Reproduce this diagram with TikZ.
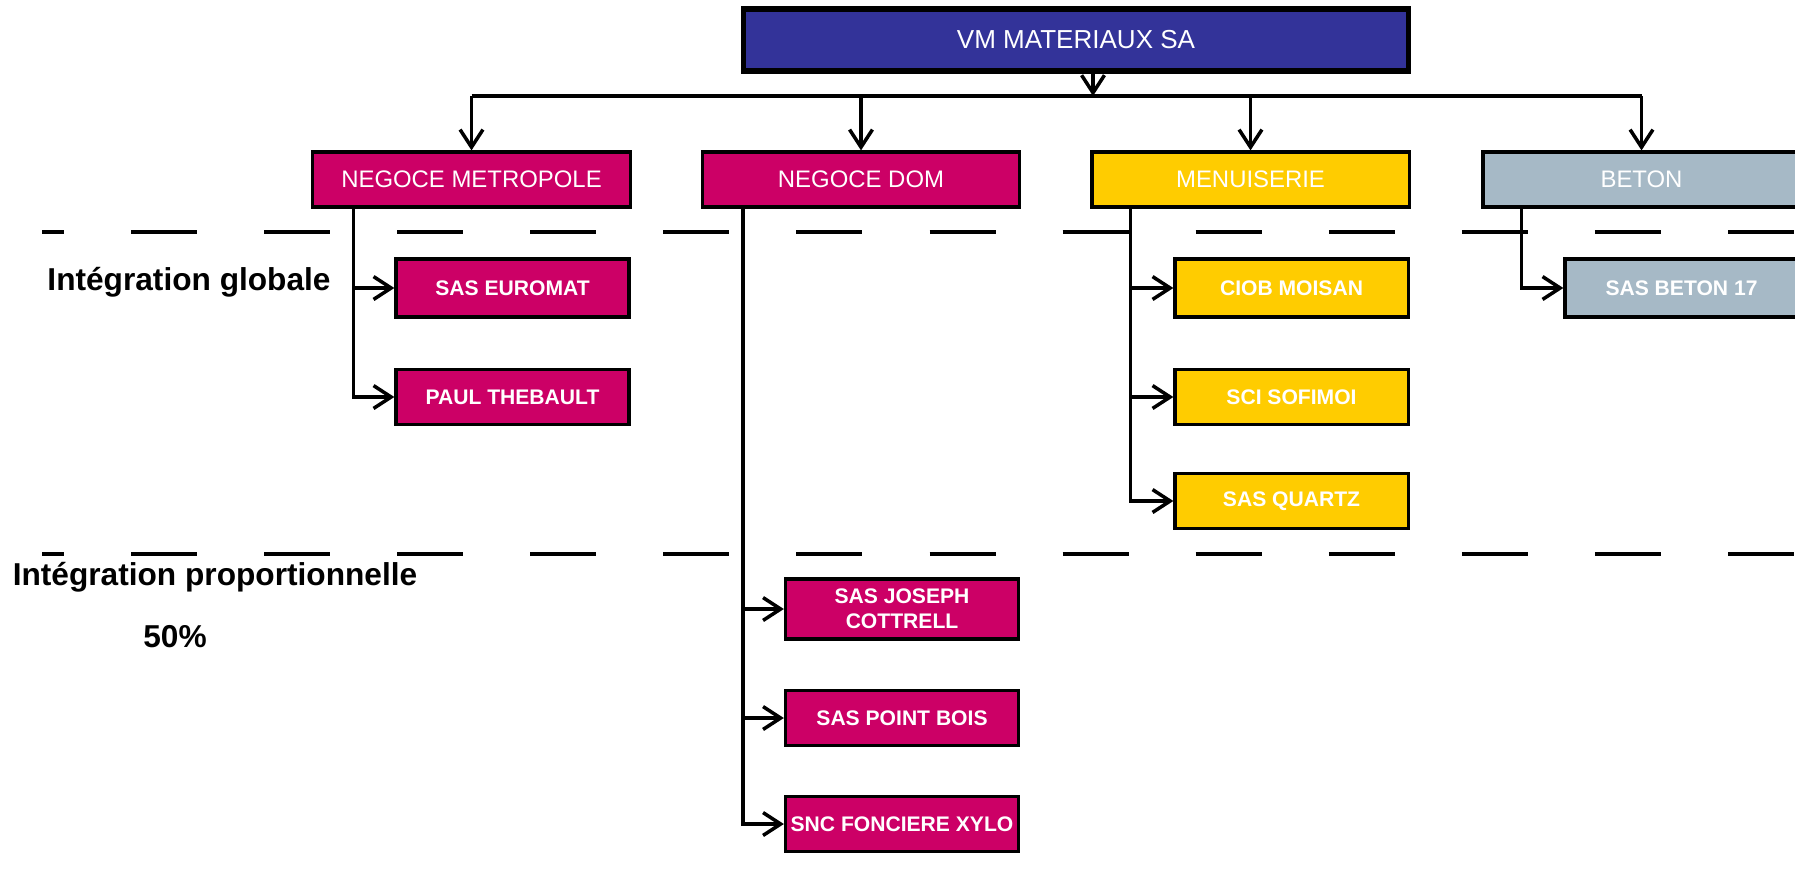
\documentclass[tikz,border=0pt]{standalone}
\usepackage{fontspec}
\setmainfont{Liberation Sans}
\usetikzlibrary{arrows.meta,calc}
\tikzset{>={Straight Barb[length=5pt,width=6.5pt]}}
\definecolor{groupBlue}{RGB}{51,51,153}
\definecolor{negoceColor}{RGB}{204,0,102}
\definecolor{menuisColor}{RGB}{255,204,0}
\definecolor{betonColor}{RGB}{166,185,198}
\tikzset{
  branch/.style={draw=black, line width=0.9pt, minimum width=3.17cm, minimum height=0.55cm,
    inner sep=1pt, text=white, font=\fontsize{6.8}{8}\selectfont},
  filiale/.style={draw=black, line width=0.9pt, minimum width=2.33cm, minimum height=0.55cm,
    inner sep=1pt, text=white, align=center, font=\bfseries\fontsize{6}{7}\selectfont},
  link/.style={line width=1pt},
  limit/.style={line width=1.1pt, dash pattern=on 0.66cm off 0.67cm, dash phase=0.44cm},
  zone/.style={font=\bfseries\fontsize{9}{11}\selectfont}
}

\begin{document}
\begin{tikzpicture}[x=0.01cm,y=-0.01cm]
\useasboundingbox (0,0) rectangle (1795,872);
% limites des perimetres
\draw[limit] (42,232) -- (1795,232);
\draw[limit] (42,554) -- (1795,554);
\node[zone] (glob) at (189,282) {Intégration globale};
\node[zone] (prop) at (215,577) {Intégration proportionnelle};
\node[zone] (pct) at (175,637) {50\%};
% societe mere
\node[draw=black, line width=1.5pt, fill=groupBlue, text=white, minimum width=6.64cm,
  minimum height=0.62cm, font=\fontsize{7.4}{9}\selectfont] (vm) at (1076,40) {VM MATERIAUX SA};
% branches
\node[branch, fill=negoceColor] (metro) at (471.5,179.5) {NEGOCE METROPOLE};
\node[branch, fill=negoceColor] (dom) at (861,179.5) {NEGOCE DOM};
\node[branch, fill=menuisColor] (menuis) at (1250.5,179.5) {MENUISERIE};
\node[branch, fill=betonColor] (beton) at (1641.5,179.5) {BETON};
\coordinate (bus) at (1093,96);
\draw[->,link] (vm.south -| bus) -- (bus);
\draw[link] (metro.north |- bus) -- (beton.north |- bus);
\draw[->,link] (metro.north |- bus) -- (metro.north);
\draw[->,link] (dom.north |- bus) -- (dom.north);
\draw[->,link] (menuis.north |- bus) -- (menuis.north);
\draw[->,link] (beton.north |- bus) -- (beton.north);
% filiales
\node[filiale, fill=negoceColor, minimum height=0.58cm] (euromat) at (512.5,288) {SAS EUROMAT};
\node[filiale, fill=negoceColor] (thebault) at (512.5,397) {PAUL THEBAULT};
\node[filiale, fill=menuisColor, minimum height=0.58cm] (ciob) at (1291.5,288) {CIOB MOISAN};
\node[filiale, fill=menuisColor] (sofimoi) at (1291.5,397) {SCI SOFIMOI};
\node[filiale, fill=menuisColor] (quartz) at (1291.5,501) {SAS QUARTZ};
\node[filiale, fill=betonColor, minimum height=0.58cm] (beton17) at (1681.5,288) {SAS BETON 17};
\node[filiale, fill=negoceColor, minimum height=0.6cm] (cottrell) at (902,609) {SAS JOSEPH\\COTTRELL};
\node[filiale, fill=negoceColor] (pointbois) at (902,718) {SAS POINT BOIS};
\node[filiale, fill=negoceColor] (xylo) at (902,824) {SNC FONCIERE XYLO};
\draw[->,link] ($(metro.south west)+(42,0)$) |- (euromat.west);
\draw[->,link] ($(metro.south west)+(42,0)$) |- (thebault.west);
\draw[->,link] ($(dom.south west)+(42,0)$) |- (cottrell.west);
\draw[->,link] ($(dom.south west)+(42,0)$) |- (pointbois.west);
\draw[->,link] ($(dom.south west)+(42,0)$) |- (xylo.west);
\draw[->,link] ($(menuis.south west)+(40,0)$) |- (ciob.west);
\draw[->,link] ($(menuis.south west)+(40,0)$) |- (sofimoi.west);
\draw[->,link] ($(menuis.south west)+(40,0)$) |- (quartz.west);
\draw[->,link] ($(beton.south west)+(40,0)$) |- (beton17.west);
\end{tikzpicture}
\end{document}
